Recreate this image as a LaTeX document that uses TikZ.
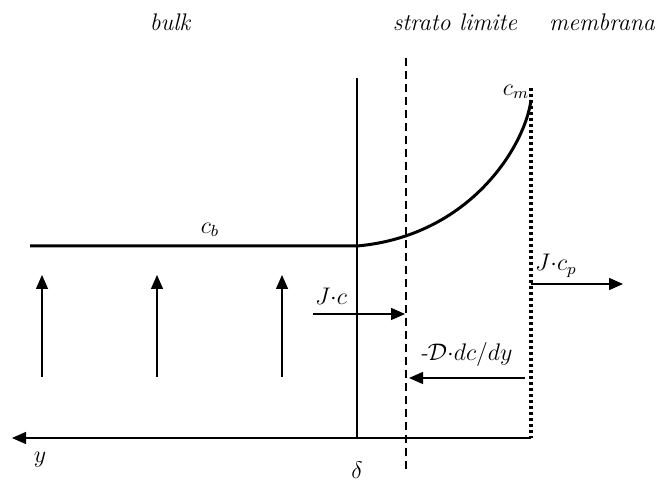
\documentclass[tikz,border=0pt]{standalone}
\usepackage{amsmath}
\usepackage{tikz}
\usetikzlibrary{arrows.meta, positioning}

\begin{document}
\begin{tikzpicture}[x=0.5pt, y=0.5pt, >={Triangle[length=7pt, width=6pt]},
    font=\itshape\large,
    profile/.style={line width=1.5pt},
    flux/.style={->, line width=0.7pt},
    wall/.style={line width=0.6pt},
    boundary/.style={line width=0.6pt, dash pattern=on 4pt off 2.5pt},
    membrane/.style={line width=1.6pt, dash pattern=on 1.5pt off 1.5pt}]
\useasboundingbox (0,0) rectangle (656,486);
% Region titles
\node (bulk) at (170,464) {bulk};
\node (strato) at (455,464) {strato limite};
\node (membr) at (602,464) {membrana};
% Walls
\coordinate (wtop) at (357,408);
\coordinate (wbot) at (357,48);
\coordinate (btop) at (406,428);
\coordinate (bbot) at (406,16);
\coordinate (mtop) at (531,398);
\coordinate (mbot) at (531,48);
\draw[wall] (wtop) -- (wbot);
\draw[boundary] (btop) -- (bbot);
\draw[membrane] (mtop) -- (mbot);
% Concentration profile
\coordinate (cstart) at (30,240);
\coordinate (cknee) at (357,240);
\coordinate (cend) at (531,386);
\draw[profile] (cstart) -- (cknee) .. controls (470,250) and (525,340) .. (cend);
\node (cb) at (210,256) {$c_b$};
\node (cm) at (516,394) {$c_m$};
% Convective arrows in the bulk
\foreach \x/\n in {42/a, 157/b, 282/c} {
    \coordinate (up\n0) at (\x,109);
    \coordinate (up\n1) at (\x,211);
    \draw[flux] (up\n0) -- (up\n1);
}
% Fluxes
\coordinate (jc0) at (313,172);
\coordinate (jc1) at (405,172);
\draw[flux] (jc0) -- (jc1);
\node (jclab) at (331,190) {$J{\cdot}c$};
\coordinate (df0) at (525,108);
\coordinate (df1) at (409,108);
\draw[flux] (df0) -- (df1);
\node (dflab) at (466,131) {$\text{-}\mathcal{D}{\cdot}dc/dy$};
\coordinate (jp0) at (531,202);
\coordinate (jp1) at (623,202);
\draw[flux] (jp0) -- (jp1);
\node (jplab) at (556,220) {$J{\cdot}c_p$};
% Axis
\coordinate (yend) at (12,48);
\draw[flux] (mbot) -- (yend);
\node (ylab) at (40,26) {$y$};
\node (delta) at (357,16) {$\delta$};
\end{tikzpicture}
\end{document}
